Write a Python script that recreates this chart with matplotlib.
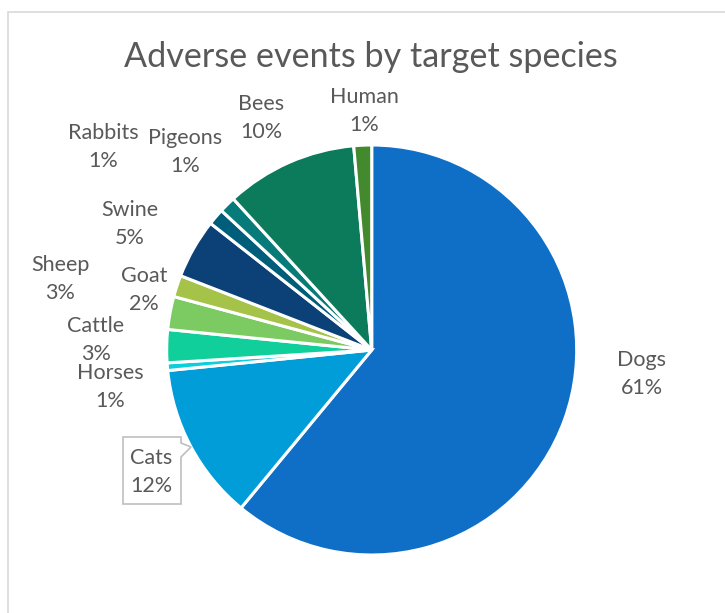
import matplotlib
matplotlib.use("Agg")
import matplotlib.pyplot as plt
from matplotlib.patches import Rectangle, Polygon

# share of adverse events (%), clockwise from 12 o'clock
species = ["Dogs", "Cats", "Horses", "Cattle", "Sheep", "Goat",
           "Swine", "Rabbits", "Pigeons", "Bees", "Human"]
share = [61.0, 12.4, 0.6, 2.6, 2.6, 1.7, 4.7, 1.3, 1.3, 10.4, 1.4]

colors = ["#0F6FC6", "#009DD9", "#0BD0D9", "#10CF9B", "#7CCA62", "#A5C249",
          "#0B4177", "#005E7B", "#077A7A", "#0B7B5B", "#438A2F"]

# label centres in pixels (x from left, y from top)
label_pos = [(642, 374), (151, 472), (110, 387), (96, 340), (60, 279),
             (144, 290), (130, 224), (103, 147), (185, 152), (261, 118),
             (364, 111)]

W, H = 725, 613
TXT = "#595959"
plt.rcParams["font.family"] = ["Lato", "DejaVu Sans"]

fig = plt.figure(figsize=(W / 100, H / 100), dpi=100)
ax = fig.add_axes([0, 0, 1, 1])

# chart area border
ax.add_patch(Rectangle((8, -20), W + 40, H - 12 + 20, fill=False,
                       edgecolor="#D9D9D9", linewidth=1.2))

ax.pie(share, colors=colors, startangle=90, counterclock=False,
       center=(371.7, H - 350), radius=205, frame=True,
       wedgeprops=dict(edgecolor="white", linewidth=2.2))
ax.set_xlim(0, W)
ax.set_ylim(0, H)
ax.set_aspect("equal")
ax.axis("off")

ax.text(371, H - 57, "Adverse events by target species", ha="center",
        va="center", fontsize=24.6, color=TXT)

for name, v, (px, py) in zip(species, share, label_pos):
    ax.text(px, H - py, f"{name}\n{round(v)}%", ha="center", va="center",
            fontsize=15.5, color=TXT, linespacing=1.55)

# callout box for the Cats label
ax.add_patch(Polygon([(123, H - 437), (181, H - 437), (181, H - 443),
                      (191, H - 447), (181, H - 457), (181, H - 504),
                      (123, H - 504)], closed=True, facecolor="none",
                     edgecolor="#BFBFBF", linewidth=1.2, zorder=1))

fig.savefig("out.png", dpi=100)
